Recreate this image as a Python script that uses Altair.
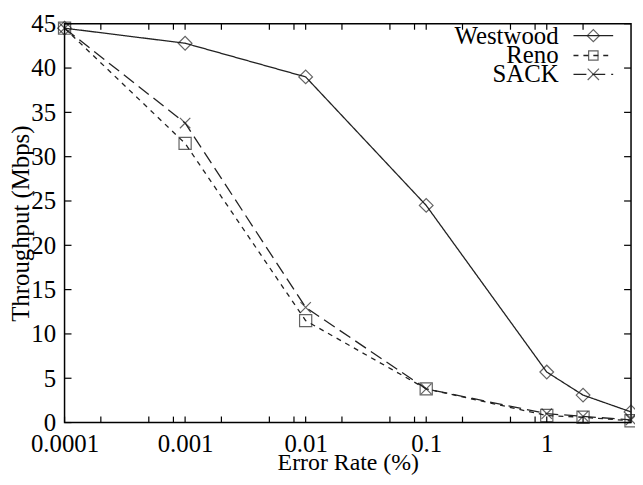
import altair as alt
import pandas as pd

# ---- data ----
error_rate = [0.0001, 0.001, 0.01, 0.1, 1, 2, 5]
westwood = [44.5, 42.8, 39.0, 24.5, 5.7, 3.1, 1.2]
reno = [44.5, 31.5, 11.5, 3.8, 0.8, 0.6, 0.2]
sack = [44.5, 33.8, 13.0, 3.8, 1.0, 0.7, 0.3]
series_names = ["Westwood", "Reno", "SACK"]

x_major = [0.0001, 0.001, 0.01, 0.1, 1]
x_minor = [0.0002, 0.0005, 0.0008, 0.002, 0.005, 0.008,
           0.02, 0.05, 0.08, 0.2, 0.5, 0.8, 2]
y_ticks = [0, 5, 10, 15, 20, 25, 30, 35, 40, 45]

x_title = "Error Rate (%)"
y_title = "Throughput (Mbps)"

W, H = 571, 402
FONT = "Liberation Serif"
INK = "#222222"

rows = []
for name, vals in zip(series_names, [westwood, reno, sack]):
    for r, v in zip(error_rate, vals):
        rows.append({"rate": r, "tput": v, "series": name})
df = pd.DataFrame(rows)

xscale = alt.Scale(type="log", domain=[0.0001, 5], nice=False)
yscale = alt.Scale(domain=[0, 45], nice=False)

x_axis = alt.Axis(values=x_major, format="~g", ticks=False, domain=False,
                  grid=False, title=x_title, labelPadding=9, labelFlush=False,
                  titleBaseline="alphabetic", titleY=47, titleFontSize=24)
y_axis = alt.Axis(values=y_ticks, ticks=False, domain=False, grid=False,
                  title=y_title, labelPadding=9, labelFlush=False,
                  titleBaseline="alphabetic", titleX=-36)

dash_scale = alt.Scale(domain=series_names, range=[[1, 0], [5, 5], [13, 6]])
shape_scale = alt.Scale(domain=series_names,
                        range=["diamond", "square", "M-1,-1L1,1M-1,1L1,-1"])
size_scale = alt.Scale(domain=series_names, range=[190, 110, 150])

base = alt.Chart(df)

lines = base.mark_line(color=INK, strokeWidth=1.3).encode(
    x=alt.X("rate:Q", scale=xscale, axis=x_axis),
    y=alt.Y("tput:Q", scale=yscale, axis=y_axis),
    strokeDash=alt.StrokeDash("series:N", scale=dash_scale, legend=None),
    detail="series:N",
)

points = base.mark_point(color=INK, strokeWidth=1.2, filled=False).encode(
    x=alt.X("rate:Q", scale=xscale, axis=x_axis),
    y=alt.Y("tput:Q", scale=yscale, axis=y_axis),
    shape=alt.Shape("series:N", scale=shape_scale, legend=None),
    size=alt.Size("series:N", scale=size_scale, legend=None),
)

# inward ticks (gnuplot style), on all four sides
xt = pd.DataFrame({"rate": x_major + x_minor})
yt = pd.DataFrame({"tput": y_ticks})

tick_x_bottom = alt.Chart(xt).mark_rule(color="black", strokeWidth=1.2).encode(
    x=alt.X("rate:Q", scale=xscale, axis=x_axis),
    y=alt.value(H),
    y2=alt.value(H - 6),
)
tick_x_top = alt.Chart(xt).mark_rule(color="black", strokeWidth=1.2).encode(
    x=alt.X("rate:Q", scale=xscale, axis=x_axis),
    y=alt.value(0),
    y2=alt.value(6),
)
tick_y_left = alt.Chart(yt).mark_rule(color="black", strokeWidth=1.2).encode(
    y=alt.Y("tput:Q", scale=yscale, axis=y_axis),
    x=alt.value(0),
    x2=alt.value(7),
)
tick_y_right = alt.Chart(yt).mark_rule(color="black", strokeWidth=1.2).encode(
    y=alt.Y("tput:Q", scale=yscale, axis=y_axis),
    x=alt.value(W),
    x2=alt.value(W - 7),
)

# legend (label left of the sample, gnuplot style)
leg_rows = [12, 32, 51]
leg_dash = [[1, 0], [5, 5], [13, 6]]
leg_shape = ["diamond", "square", "M-1,-1L1,1M-1,1L1,-1"]
leg_size = [150, 90, 130]
legend_layers = []
for name, yy, dsh, shp, sz in zip(series_names, leg_rows, leg_dash, leg_shape, leg_size):
    legend_layers.append(
        alt.Chart(pd.DataFrame({"n": [name]})).mark_text(
            align="right", baseline="middle", font=FONT, fontSize=25, color="black"
        ).encode(x=alt.value(498), y=alt.value(yy), text="n:N")
    )
    legend_layers.append(
        alt.Chart(pd.DataFrame({"n": [name]})).mark_rule(
            color=INK, strokeWidth=1.3, strokeDash=dsh
        ).encode(x=alt.value(513), x2=alt.value(553), y=alt.value(yy))
    )
    legend_layers.append(
        alt.Chart(pd.DataFrame({"n": [name]})).mark_point(
            color=INK, strokeWidth=1.2, filled=False, shape=shp, size=sz
        ).encode(x=alt.value(533), y=alt.value(yy))
    )

chart = alt.layer(
    lines, points, tick_x_bottom, tick_x_top, tick_y_left, tick_y_right,
    *legend_layers
).properties(
    width=W, height=H,
    autosize=alt.AutoSizeParams(type="none"),
    padding={"left": 57, "top": 14, "right": 4, "bottom": 52},
    background="white",
).configure_view(
    stroke="black", strokeWidth=1.5
).configure_axis(
    labelFont=FONT, labelFontSize=25, labelColor="black",
    titleFont=FONT, titleFontSize=25, titleFontWeight="normal", titleColor="black",
)

chart.save("out.html", embed_options={"renderer": "svg", "actions": False})
